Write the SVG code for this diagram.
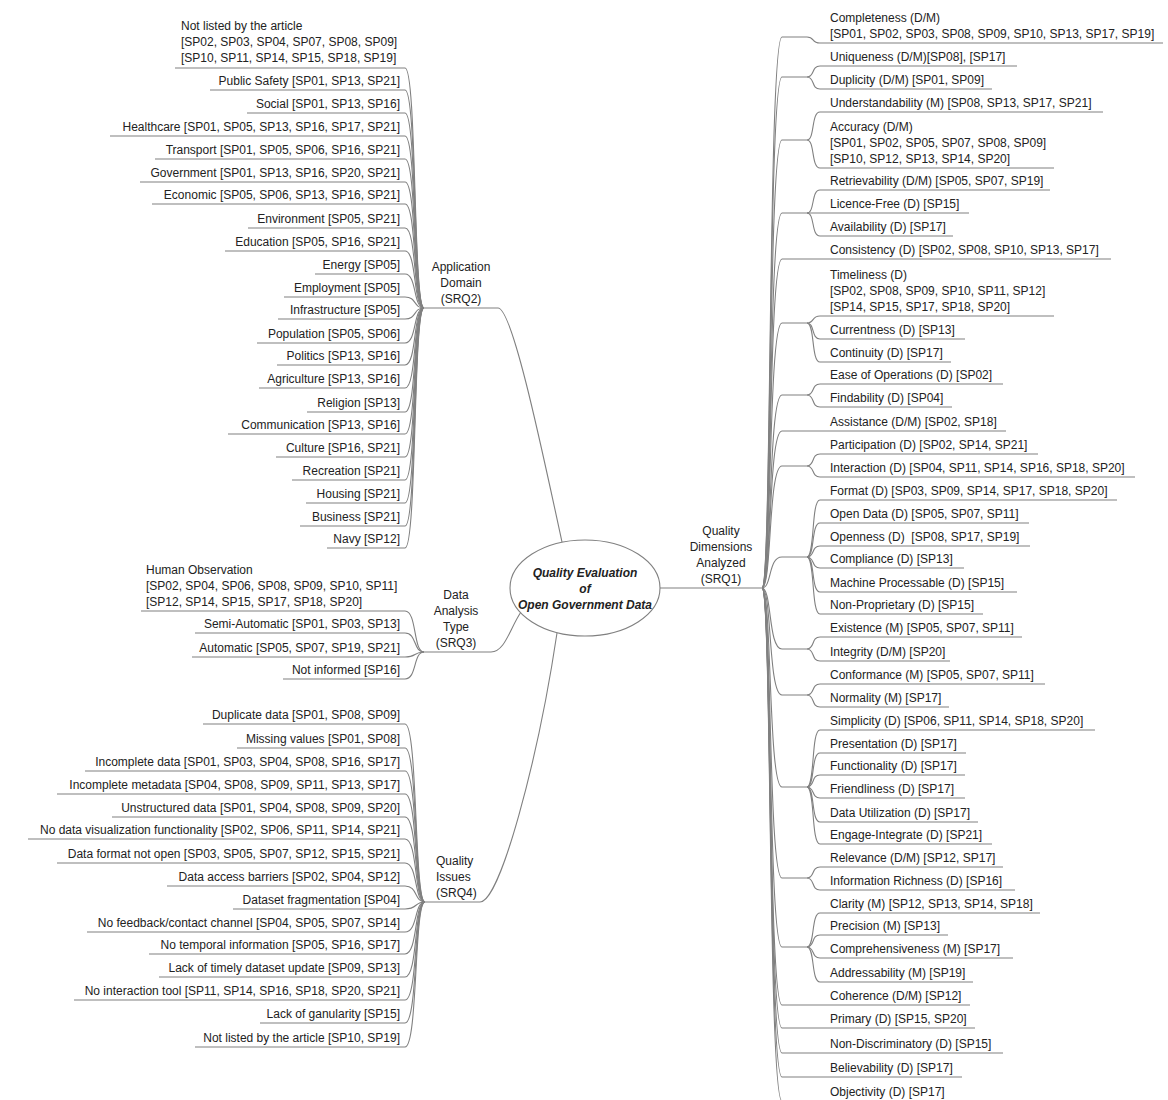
<svg xmlns="http://www.w3.org/2000/svg" width="1168" height="1100" viewBox="0 0 1168 1100">
<style>
.t{font-family:"Liberation Sans",Arial,sans-serif;font-size:12px;fill:#222}
.e{text-anchor:end}
.m{text-anchor:middle}
.l{fill:none;stroke:#808080;stroke-width:1.1}
.c{font-family:"Liberation Sans",Arial,sans-serif;font-size:12px;font-style:italic;font-weight:bold;fill:#222;text-anchor:middle}
</style>
<rect width="1168" height="1100" fill="#fff"/>
<g id="connectors">
<path class="l" d="M660,588 L762,588"/>
<path class="l" d="M424,308 L498,308 C512,308 540,440 562,542"/>
<path class="l" d="M424,652 L491,652 C505,652 510,628 521,612"/>
<path class="l" d="M425,902 L480,902 C500,902 538,760 557,633"/>
<path class="l" d="M762,588 C772,588 768,37 782,37 L807,37"/>
<path class="l" d="M762,588 C772,588 768,77 782,77 L807,77"/>
<path class="l" d="M762,588 C772,588 768,140 782,140 L807,140"/>
<path class="l" d="M762,588 C772,588 768,213 782,213 L807,213"/>
<path class="l" d="M762,588 C772,588 768,259 782,259 L1111,259"/>
<path class="l" d="M762,588 C772,588 768,323 782,323 L807,323"/>
<path class="l" d="M762,588 C772,588 768,395 782,395 L807,395"/>
<path class="l" d="M762,588 C772,588 768,431 782,431 L1006,431"/>
<path class="l" d="M762,588 C772,588 768,466 782,466 L807,466"/>
<path class="l" d="M762,588 C772,588 768,557 782,557 L807,557"/>
<path class="l" d="M762,588 C772,588 768,649 782,649 L807,649"/>
<path class="l" d="M762,588 C772,588 768,695 782,695 L807,695"/>
<path class="l" d="M762,588 C772,588 768,787 782,787 L807,787"/>
<path class="l" d="M762,588 C772,588 768,878 782,878 L807,878"/>
<path class="l" d="M762,588 C772,588 768,947 782,947 L807,947"/>
<path class="l" d="M762,588 C772,588 768,1005 782,1005 L970,1005"/>
<path class="l" d="M762,588 C772,588 768,1028 782,1028 L975,1028"/>
<path class="l" d="M762,588 C772,588 768,1053 782,1053 L1003,1053"/>
<path class="l" d="M762,588 C772,588 768,1077 782,1077 L962,1077"/>
<path class="l" d="M762,588 C772,588 768,1101 782,1101 L950,1101"/>
<path class="l" d="M807,37 C815,37 811,43 820,43 L1163,43"/>
<path class="l" d="M807,77 C815,77 811,66 820,66 L1017,66"/>
<path class="l" d="M807,77 C815,77 811,89 820,89 L992,89"/>
<path class="l" d="M807,140 C815,140 811,112 820,112 L1103,112"/>
<path class="l" d="M807,140 C815,140 811,168 820,168 L1054,168"/>
<path class="l" d="M807,213 C815,213 811,190 820,190 L1050,190"/>
<path class="l" d="M807,213 L969,213"/>
<path class="l" d="M807,213 C815,213 811,236 820,236 L953,236"/>
<path class="l" d="M807,323 C815,323 811,316 820,316 L1054,316"/>
<path class="l" d="M807,323 C815,323 811,339 820,339 L965,339"/>
<path class="l" d="M807,323 C815,323 811,362 820,362 L951,362"/>
<path class="l" d="M807,395 C815,395 811,384 820,384 L1003,384"/>
<path class="l" d="M807,395 C815,395 811,407 820,407 L952,407"/>
<path class="l" d="M807,466 C815,466 811,454 820,454 L1038,454"/>
<path class="l" d="M807,466 C815,466 811,477 820,477 L1135,477"/>
<path class="l" d="M807,557 C815,557 811,500 820,500 L1117,500"/>
<path class="l" d="M807,557 C815,557 811,523 820,523 L1029,523"/>
<path class="l" d="M807,557 C815,557 811,546 820,546 L1030,546"/>
<path class="l" d="M807,557 C815,557 811,568 820,568 L964,568"/>
<path class="l" d="M807,557 C815,557 811,592 820,592 L1017,592"/>
<path class="l" d="M807,557 C815,557 811,614 820,614 L983,614"/>
<path class="l" d="M807,649 C815,649 811,637 820,637 L1022,637"/>
<path class="l" d="M807,649 C815,649 811,661 820,661 L950,661"/>
<path class="l" d="M807,695 C815,695 811,684 820,684 L1045,684"/>
<path class="l" d="M807,695 C815,695 811,707 820,707 L949,707"/>
<path class="l" d="M807,787 C815,787 811,730 820,730 L1095,730"/>
<path class="l" d="M807,787 C815,787 811,753 820,753 L966,753"/>
<path class="l" d="M807,787 C815,787 811,775 820,775 L965,775"/>
<path class="l" d="M807,787 C815,787 811,798 820,798 L965,798"/>
<path class="l" d="M807,787 C815,787 811,822 820,822 L978,822"/>
<path class="l" d="M807,787 C815,787 811,844 820,844 L992,844"/>
<path class="l" d="M807,878 C815,878 811,867 820,867 L1003,867"/>
<path class="l" d="M807,878 C815,878 811,890 820,890 L1015,890"/>
<path class="l" d="M807,947 C815,947 811,913 820,913 L1040,913"/>
<path class="l" d="M807,947 C815,947 811,935 820,935 L948,935"/>
<path class="l" d="M807,947 C815,947 811,958 820,958 L1013,958"/>
<path class="l" d="M807,947 C815,947 811,982 820,982 L973,982"/>
<path class="l" d="M175,68 L405,68 C417,68 413,308 424,308"/>
<path class="l" d="M210,90 L405,90 C417,90 413,308 424,308"/>
<path class="l" d="M247,113 L405,113 C417,113 413,308 424,308"/>
<path class="l" d="M110,136 L405,136 C417,136 413,308 424,308"/>
<path class="l" d="M155,159 L405,159 C417,159 413,308 424,308"/>
<path class="l" d="M140,182 L405,182 C417,182 413,308 424,308"/>
<path class="l" d="M152,204 L405,204 C417,204 413,308 424,308"/>
<path class="l" d="M248,228 L405,228 C417,228 413,308 424,308"/>
<path class="l" d="M225,251 L405,251 C417,251 413,308 424,308"/>
<path class="l" d="M315,274 L405,274 C417,274 413,308 424,308"/>
<path class="l" d="M284,297 L405,297 C417,297 413,308 424,308"/>
<path class="l" d="M278,319 L405,319 C417,319 413,308 424,308"/>
<path class="l" d="M257,343 L405,343 C417,343 413,308 424,308"/>
<path class="l" d="M277,365 L405,365 C417,365 413,308 424,308"/>
<path class="l" d="M259,388 L405,388 C417,388 413,308 424,308"/>
<path class="l" d="M307,412 L405,412 C417,412 413,308 424,308"/>
<path class="l" d="M228,434 L405,434 C417,434 413,308 424,308"/>
<path class="l" d="M276,457 L405,457 C417,457 413,308 424,308"/>
<path class="l" d="M292,480 L405,480 C417,480 413,308 424,308"/>
<path class="l" d="M306,503 L405,503 C417,503 413,308 424,308"/>
<path class="l" d="M300,526 L405,526 C417,526 413,308 424,308"/>
<path class="l" d="M327,548 L405,548 C417,548 413,308 424,308"/>
<path class="l" d="M141,611 L405,611 C417,611 413,652 424,652"/>
<path class="l" d="M195,633 L405,633 C417,633 413,652 424,652"/>
<path class="l" d="M192,657 L405,657 C417,657 413,652 424,652"/>
<path class="l" d="M283,679 L405,679 C417,679 413,652 424,652"/>
<path class="l" d="M203,724 L405,724 C418,724 414,902 425,902"/>
<path class="l" d="M237,748 L405,748 C418,748 414,902 425,902"/>
<path class="l" d="M85,771 L405,771 C418,771 414,902 425,902"/>
<path class="l" d="M57,794 L405,794 C418,794 414,902 425,902"/>
<path class="l" d="M112,817 L405,817 C418,817 414,902 425,902"/>
<path class="l" d="M28,839 L405,839 C418,839 414,902 425,902"/>
<path class="l" d="M57,863 L405,863 C418,863 414,902 425,902"/>
<path class="l" d="M167,886 L405,886 C418,886 414,902 425,902"/>
<path class="l" d="M233,909 L405,909 C418,909 414,902 425,902"/>
<path class="l" d="M87,932 L405,932 C418,932 414,902 425,902"/>
<path class="l" d="M149,954 L405,954 C418,954 414,902 425,902"/>
<path class="l" d="M159,977 L405,977 C418,977 414,902 425,902"/>
<path class="l" d="M74,1000 L405,1000 C418,1000 414,902 425,902"/>
<path class="l" d="M260,1023 L405,1023 C418,1023 414,902 425,902"/>
<path class="l" d="M195,1047 L405,1047 C418,1047 414,902 425,902"/>
</g>
<g id="center">
<ellipse cx="585" cy="588" rx="75" ry="48" fill="#fff" stroke="#808080" stroke-width="1.1"/>
<text class="c" x="585" y="577">Quality Evaluation</text>
<text class="c" x="585" y="593">of</text>
<text class="c" x="585" y="609">Open Government Data</text>
</g>
<g id="srq1"><text class="t m" x="721" y="535">Quality</text><text class="t m" x="721" y="551">Dimensions</text><text class="t m" x="721" y="567">Analyzed</text><text class="t m" x="721" y="583">(SRQ1)</text></g>
<g id="srq2"><text class="t m" x="461" y="271">Application</text><text class="t m" x="461" y="287">Domain</text><text class="t m" x="461" y="303">(SRQ2)</text></g>
<g id="srq3"><text class="t m" x="456" y="599">Data</text><text class="t m" x="456" y="615">Analysis</text><text class="t m" x="456" y="631">Type</text><text class="t m" x="456" y="647">(SRQ3)</text></g>
<g id="srq4"><text class="t" x="436" y="865">Quality</text><text class="t" x="436" y="881">Issues</text><text class="t" x="436" y="897">(SRQ4)</text></g>
<g id="dimensions">
<g id="d-completeness"><text class="t" x="830" y="22">Completeness (D/M)</text><text class="t" x="830" y="38">[SP01, SP02, SP03, SP08, SP09, SP10, SP13, SP17, SP19]</text></g>
<g id="d-uniqueness"><text class="t" x="830" y="61">Uniqueness (D/M)[SP08], [SP17]</text></g>
<g id="d-duplicity"><text class="t" x="830" y="84">Duplicity (D/M) [SP01, SP09]</text></g>
<g id="d-understandability"><text class="t" x="830" y="107">Understandability (M) [SP08, SP13, SP17, SP21]</text></g>
<g id="d-accuracy"><text class="t" x="830" y="131">Accuracy (D/M)</text><text class="t" x="830" y="147">[SP01, SP02, SP05, SP07, SP08, SP09]</text><text class="t" x="830" y="163">[SP10, SP12, SP13, SP14, SP20]</text></g>
<g id="d-retrievability"><text class="t" x="830" y="185">Retrievability (D/M) [SP05, SP07, SP19]</text></g>
<g id="d-licence"><text class="t" x="830" y="208">Licence-Free (D) [SP15]</text></g>
<g id="d-availability"><text class="t" x="830" y="231">Availability (D) [SP17]</text></g>
<g id="d-consistency"><text class="t" x="830" y="254">Consistency (D) [SP02, SP08, SP10, SP13, SP17]</text></g>
<g id="d-timeliness"><text class="t" x="830" y="279">Timeliness (D)</text><text class="t" x="830" y="295">[SP02, SP08, SP09, SP10, SP11, SP12]</text><text class="t" x="830" y="311">[SP14, SP15, SP17, SP18, SP20]</text></g>
<g id="d-currentness"><text class="t" x="830" y="334">Currentness (D) [SP13]</text></g>
<g id="d-continuity"><text class="t" x="830" y="357">Continuity (D) [SP17]</text></g>
<g id="d-ease"><text class="t" x="830" y="379">Ease of Operations (D) [SP02]</text></g>
<g id="d-findability"><text class="t" x="830" y="402">Findability (D) [SP04]</text></g>
<g id="d-assistance"><text class="t" x="830" y="426">Assistance (D/M) [SP02, SP18]</text></g>
<g id="d-participation"><text class="t" x="830" y="449">Participation (D) [SP02, SP14, SP21]</text></g>
<g id="d-interaction"><text class="t" x="830" y="472">Interaction (D) [SP04, SP11, SP14, SP16, SP18, SP20]</text></g>
<g id="d-format"><text class="t" x="830" y="495">Format (D) [SP03, SP09, SP14, SP17, SP18, SP20]</text></g>
<g id="d-opendata"><text class="t" x="830" y="518">Open Data (D) [SP05, SP07, SP11]</text></g>
<g id="d-openness"><text class="t" x="830" y="541" xml:space="preserve">Openness (D)  [SP08, SP17, SP19]</text></g>
<g id="d-compliance"><text class="t" x="830" y="563">Compliance (D) [SP13]</text></g>
<g id="d-machine"><text class="t" x="830" y="587">Machine Processable (D) [SP15]</text></g>
<g id="d-nonprop"><text class="t" x="830" y="609">Non-Proprietary (D) [SP15]</text></g>
<g id="d-existence"><text class="t" x="830" y="632">Existence (M) [SP05, SP07, SP11]</text></g>
<g id="d-integrity"><text class="t" x="830" y="656">Integrity (D/M) [SP20]</text></g>
<g id="d-conformance"><text class="t" x="830" y="679">Conformance (M) [SP05, SP07, SP11]</text></g>
<g id="d-normality"><text class="t" x="830" y="702">Normality (M) [SP17]</text></g>
<g id="d-simplicity"><text class="t" x="830" y="725">Simplicity (D) [SP06, SP11, SP14, SP18, SP20]</text></g>
<g id="d-presentation"><text class="t" x="830" y="748">Presentation (D) [SP17]</text></g>
<g id="d-functionality"><text class="t" x="830" y="770">Functionality (D) [SP17]</text></g>
<g id="d-friendliness"><text class="t" x="830" y="793">Friendliness (D) [SP17]</text></g>
<g id="d-datautil"><text class="t" x="830" y="817">Data Utilization (D) [SP17]</text></g>
<g id="d-engage"><text class="t" x="830" y="839">Engage-Integrate (D) [SP21]</text></g>
<g id="d-relevance"><text class="t" x="830" y="862">Relevance (D/M) [SP12, SP17]</text></g>
<g id="d-richness"><text class="t" x="830" y="885">Information Richness (D) [SP16]</text></g>
<g id="d-clarity"><text class="t" x="830" y="908">Clarity (M) [SP12, SP13, SP14, SP18]</text></g>
<g id="d-precision"><text class="t" x="830" y="930">Precision (M) [SP13]</text></g>
<g id="d-comprehensiveness"><text class="t" x="830" y="953">Comprehensiveness (M) [SP17]</text></g>
<g id="d-addressability"><text class="t" x="830" y="977">Addressability (M) [SP19]</text></g>
<g id="d-coherence"><text class="t" x="830" y="1000">Coherence (D/M) [SP12]</text></g>
<g id="d-primary"><text class="t" x="830" y="1023">Primary (D) [SP15, SP20]</text></g>
<g id="d-nondisc"><text class="t" x="830" y="1048">Non-Discriminatory (D) [SP15]</text></g>
<g id="d-believability"><text class="t" x="830" y="1072">Believability (D) [SP17]</text></g>
<g id="d-objectivity"><text class="t" x="830" y="1096">Objectivity (D) [SP17]</text></g>
</g>
<g id="domains">
<g id="a-notlisted"><text class="t" x="181" y="30">Not listed by the article</text><text class="t" x="181" y="46">[SP02, SP03, SP04, SP07, SP08, SP09]</text><text class="t" x="181" y="62">[SP10, SP11, SP14, SP15, SP18, SP19]</text></g>
<g id="a-safety"><text class="t e" x="400" y="85">Public Safety [SP01, SP13, SP21]</text></g>
<g id="a-social"><text class="t e" x="400" y="108">Social [SP01, SP13, SP16]</text></g>
<g id="a-health"><text class="t e" x="400" y="131">Healthcare [SP01, SP05, SP13, SP16, SP17, SP21]</text></g>
<g id="a-transport"><text class="t e" x="400" y="154">Transport [SP01, SP05, SP06, SP16, SP21]</text></g>
<g id="a-government"><text class="t e" x="400" y="177">Government [SP01, SP13, SP16, SP20, SP21]</text></g>
<g id="a-economic"><text class="t e" x="400" y="199">Economic [SP05, SP06, SP13, SP16, SP21]</text></g>
<g id="a-environment"><text class="t e" x="400" y="223">Environment [SP05, SP21]</text></g>
<g id="a-education"><text class="t e" x="400" y="246">Education [SP05, SP16, SP21]</text></g>
<g id="a-energy"><text class="t e" x="400" y="269">Energy [SP05]</text></g>
<g id="a-employment"><text class="t e" x="400" y="292">Employment [SP05]</text></g>
<g id="a-infrastructure"><text class="t e" x="400" y="314">Infrastructure [SP05]</text></g>
<g id="a-population"><text class="t e" x="400" y="338">Population [SP05, SP06]</text></g>
<g id="a-politics"><text class="t e" x="400" y="360">Politics [SP13, SP16]</text></g>
<g id="a-agriculture"><text class="t e" x="400" y="383">Agriculture [SP13, SP16]</text></g>
<g id="a-religion"><text class="t e" x="400" y="407">Religion [SP13]</text></g>
<g id="a-communication"><text class="t e" x="400" y="429">Communication [SP13, SP16]</text></g>
<g id="a-culture"><text class="t e" x="400" y="452">Culture [SP16, SP21]</text></g>
<g id="a-recreation"><text class="t e" x="400" y="475">Recreation [SP21]</text></g>
<g id="a-housing"><text class="t e" x="400" y="498">Housing [SP21]</text></g>
<g id="a-business"><text class="t e" x="400" y="521">Business [SP21]</text></g>
<g id="a-navy"><text class="t e" x="400" y="543">Navy [SP12]</text></g>
</g>
<g id="analysis">
<g id="t-human"><text class="t" x="146" y="574">Human Observation</text><text class="t" x="146" y="590">[SP02, SP04, SP06, SP08, SP09, SP10, SP11]</text><text class="t" x="146" y="606">[SP12, SP14, SP15, SP17, SP18, SP20]</text></g>
<g id="t-semi"><text class="t e" x="400" y="628">Semi-Automatic [SP01, SP03, SP13]</text></g>
<g id="t-auto"><text class="t e" x="400" y="652">Automatic [SP05, SP07, SP19, SP21]</text></g>
<g id="t-notinf"><text class="t e" x="400" y="674">Not informed [SP16]</text></g>
</g>
<g id="issues">
<g id="i-1"><text class="t e" x="400" y="719">Duplicate data [SP01, SP08, SP09]</text></g>
<g id="i-2"><text class="t e" x="400" y="743">Missing values [SP01, SP08]</text></g>
<g id="i-3"><text class="t e" x="400" y="766">Incomplete data [SP01, SP03, SP04, SP08, SP16, SP17]</text></g>
<g id="i-4"><text class="t e" x="400" y="789">Incomplete metadata [SP04, SP08, SP09, SP11, SP13, SP17]</text></g>
<g id="i-5"><text class="t e" x="400" y="812">Unstructured data [SP01, SP04, SP08, SP09, SP20]</text></g>
<g id="i-6"><text class="t e" x="400" y="834">No data visualization functionality [SP02, SP06, SP11, SP14, SP21]</text></g>
<g id="i-7"><text class="t e" x="400" y="858">Data format not open [SP03, SP05, SP07, SP12, SP15, SP21]</text></g>
<g id="i-8"><text class="t e" x="400" y="881">Data access barriers [SP02, SP04, SP12]</text></g>
<g id="i-9"><text class="t e" x="400" y="904">Dataset fragmentation [SP04]</text></g>
<g id="i-10"><text class="t e" x="400" y="927">No feedback/contact channel [SP04, SP05, SP07, SP14]</text></g>
<g id="i-11"><text class="t e" x="400" y="949">No temporal information [SP05, SP16, SP17]</text></g>
<g id="i-12"><text class="t e" x="400" y="972">Lack of timely dataset update [SP09, SP13]</text></g>
<g id="i-13"><text class="t e" x="400" y="995">No interaction tool [SP11, SP14, SP16, SP18, SP20, SP21]</text></g>
<g id="i-14"><text class="t e" x="400" y="1018">Lack of ganularity [SP15]</text></g>
<g id="i-15"><text class="t e" x="400" y="1042">Not listed by the article [SP10, SP19]</text></g>
</g>
</svg>
